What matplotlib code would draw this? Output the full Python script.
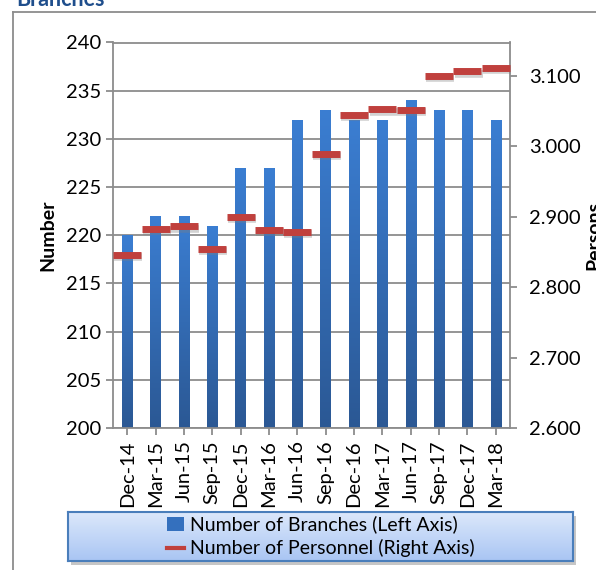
import matplotlib.pyplot as plt
import numpy as np
from matplotlib.lines import Line2D
from matplotlib.patches import Patch, Rectangle
from matplotlib.ticker import FuncFormatter
from matplotlib.colors import LinearSegmentedColormap

plt.rcParams['font.family'] = ['Lato', 'DejaVu Sans']

# quarters, branches (left axis), personnel (right axis)
quarters = ["Dec-14", "Mar-15", "Jun-15", "Sep-15", "Dec-15", "Mar-16", "Jun-16",
            "Sep-16", "Dec-16", "Mar-17", "Jun-17", "Sep-17", "Dec-17", "Mar-18"]
branches = [220, 222, 222, 221, 227, 227, 232, 233, 232, 232, 234, 233, 233, 232]
personnel = [2845, 2883, 2886, 2854, 2900, 2881, 2878, 2989, 3044, 3052, 3051, 3100, 3106, 3111]

W, H = 596, 570
fig = plt.figure(figsize=(W / 100, H / 100), dpi=100)

# outer chart border (cropped at right/bottom)
fig.add_artist(Line2D([13 / W, 13 / W], [0, 1 - 12 / H], transform=fig.transFigure, color="#8c8c8c", lw=1.3))
fig.add_artist(Line2D([13 / W, 1], [1 - 12 / H, 1 - 12 / H], transform=fig.transFigure, color="#8c8c8c", lw=1.3))
fig.text(16 / W, 1 - 6 / H, "Branches", fontsize=15.5, fontweight="bold", color="#1f4e8c", va="baseline")

ax = fig.add_axes([113 / W, 1 - 428 / H, (510 - 113) / W, (428 - 42.5) / H])
x = np.arange(len(quarters))
bars = ax.bar(x, branches, width=0.37, color="#3470be", zorder=2)

# vertical gradient on each bar
grad = np.linspace(0, 1, 256).reshape(-1, 1)
cmap = LinearSegmentedColormap.from_list("b", ["#2b5894", "#3b7ed2"])
for b in bars:
    im = ax.imshow(grad, cmap=cmap, aspect="auto", origin="lower",
                   extent=[b.get_x(), b.get_x() + b.get_width(), 200, b.get_height()], zorder=2)
    im.set_clip_path(b)

ax.set_xlim(-0.5, len(quarters) - 0.5)
ax.set_ylim(200, 240)
ax.set_yticks(range(200, 241, 5))
ax.set_xticks(x)
ax.set_xticklabels(quarters, rotation=90)
ax.grid(axis="y", color="#8c8c8c", lw=1.3, zorder=0)
ax.set_axisbelow(True)
for s in ax.spines.values():
    s.set_color("#8c8c8c")
    s.set_linewidth(1.3)
ax.tick_params(axis="both", colors="#8c8c8c", labelcolor="black", labelsize=14.5, length=5, width=1.3)
ax.tick_params(axis="x", pad=4)
ax.set_ylabel("Number", fontsize=14, fontweight="bold", labelpad=7)

ax2 = ax.twinx()
ax2.set_ylim(2600, 3147)
ax2.set_yticks(range(2600, 3101, 100))
ax2.yaxis.set_major_formatter(FuncFormatter(lambda v, p: f"{v / 1000:.3f}"))
ax2.tick_params(axis="y", colors="#8c8c8c", labelcolor="black", labelsize=14.5, length=5, width=1.3, pad=9)
for s in ax2.spines.values():
    s.set_visible(False)
# shadow then markers
ax2.plot(x + 0.04, np.array(personnel) - 3, linestyle="none", marker="_", ms=19.5, mew=5.5,
         color="#7f7f7f", alpha=0.35, zorder=3)
ax2.plot(x, personnel, linestyle="none", marker="_", ms=19.5, mew=5, color="#c0403d", zorder=4)
ax2.set_ylabel("Persons", fontsize=14, fontweight="bold", labelpad=3)

# legend box with gradient fill
lx0, ly0, lx1, ly1 = 68, 512, 573, 561
shadow = Rectangle(((lx0 + 3) / W, 1 - (ly1 + 4) / H), (lx1 - lx0) / W, (ly1 - ly0) / H,
                   transform=fig.transFigure, color="#a0a0a0", alpha=0.6, lw=0, zorder=-1)
fig.add_artist(shadow)
lax = fig.add_axes([lx0 / W, 1 - ly1 / H, (lx1 - lx0) / W, (ly1 - ly0) / H])
lcmap = LinearSegmentedColormap.from_list("l", ["#a9c5f3", "#dce8fb"])
lax.imshow(grad, cmap=lcmap, aspect="auto", origin="lower", extent=[0, 1, 0, 1])
lax.set_xticks([])
lax.set_yticks([])
for s in lax.spines.values():
    s.set_color("#4a7ebb")
    s.set_linewidth(1.5)
handles = [Patch(facecolor="#3470be", label="Number of Branches (Left Axis)"),
           Line2D([], [], color="#c0403d", lw=3, label="Number of Personnel (Right Axis)")]
lax.legend(handles=handles, loc="center", frameon=False, fontsize=14, handlelength=0.9,
           handletextpad=0.3, labelspacing=0.3, borderpad=0)

fig.savefig("out.png", dpi=100)
